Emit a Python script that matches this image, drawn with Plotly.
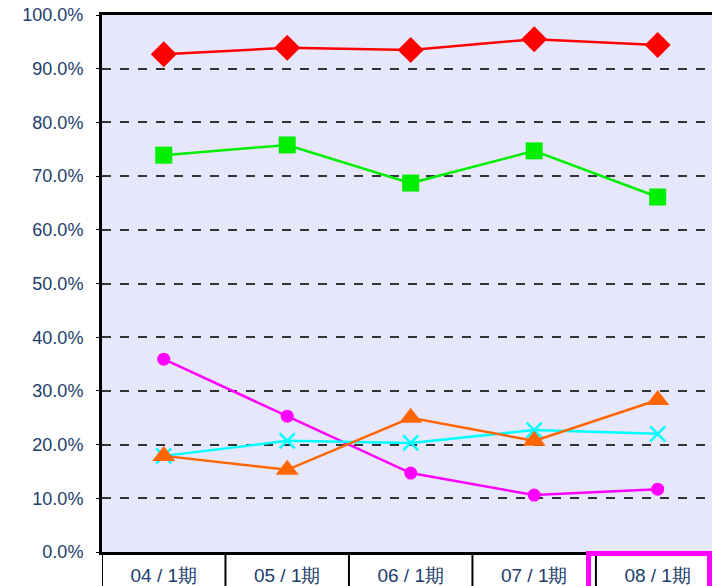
import plotly.graph_objects as go

periods = ["04/1期", "05/1期", "06/1期", "07/1期", "08/1期"]
period_labels = ["04 / 1期", "05 / 1期", "06 / 1期", "07 / 1期", "08 / 1期"]

red_vals = [0.927, 0.939, 0.935, 0.955, 0.944]
green_vals = [0.739, 0.758, 0.687, 0.747, 0.661]
magenta_vals = [0.359, 0.253, 0.147, 0.106, 0.117]
cyan_vals = [0.179, 0.207, 0.203, 0.227, 0.220]
orange_vals = [0.179, 0.153, 0.250, 0.207, 0.283]

y_ticks = [i / 10 for i in range(11)]

TEXT = "#1b3d6c"

series = [
    (red_vals, "#ff0000", "diamond", 20),
    (green_vals, "#00ee00", "square", 17),
    (magenta_vals, "#ff00ff", "circle", 13),
    (cyan_vals, "#00ffff", "x-thin-open", 15),
    (orange_vals, "#ff6600", "triangle-up", 20),
]

xs = list(range(len(periods)))

fig = go.Figure()
for vals, color, symbol, size in series:
    mline = dict(color=color, width=2.5) if symbol == "x-thin-open" else dict(width=0)
    fig.add_trace(go.Scatter(
        x=xs, y=vals, mode="lines+markers",
        line=dict(color=color, width=2.5),
        marker=dict(symbol=symbol, size=size, color=color, line=mline),
        cliponaxis=False,
    ))

# table-like separators under the x axis
for b in [-0.5, 0.5, 1.5, 2.5, 3.5]:
    fig.add_shape(type="line", xref="x", yref="paper", x0=b, x1=b, y0=0, y1=-0.07,
                  line=dict(color="black", width=2))
# highlight box for the latest period
fig.add_shape(type="rect", xref="x", yref="paper", x0=3.44, x1=4.42, y0=-0.003, y1=-0.08,
              line=dict(color="#ff00ff", width=5))

fig.update_layout(
    width=712, height=586,
    margin=dict(l=102, r=0, t=15, b=34),
    plot_bgcolor="#e7e7fc",
    paper_bgcolor="white",
    showlegend=False,
    font=dict(family="Liberation Sans, Arial", size=18, color=TEXT),
)
fig.update_xaxes(
    range=[-0.5, 4.44], tickvals=xs, ticktext=period_labels,
    showgrid=False, zeroline=False, ticks="", ticklabelstandoff=4,
    tickfont=dict(size=19), automargin=False,
    showline=True, linecolor="black", linewidth=3, mirror=True,
)
fig.update_yaxes(
    range=[0, 1], tickvals=y_ticks, tickformat=".1%",
    showgrid=True, gridcolor="#333333", gridwidth=1.5, griddash="dash",
    zeroline=False, ticks="outside", ticklen=3, tickcolor="black",
    ticklabelstandoff=9, automargin=False,
    showline=True, linecolor="black", linewidth=3, mirror=True,
)

# drop the browser's default page margin so the figure sits at the window corner
fig.write_html("out.html", config={"displayModeBar": False},
               post_script="document.body.style.margin='0';")
